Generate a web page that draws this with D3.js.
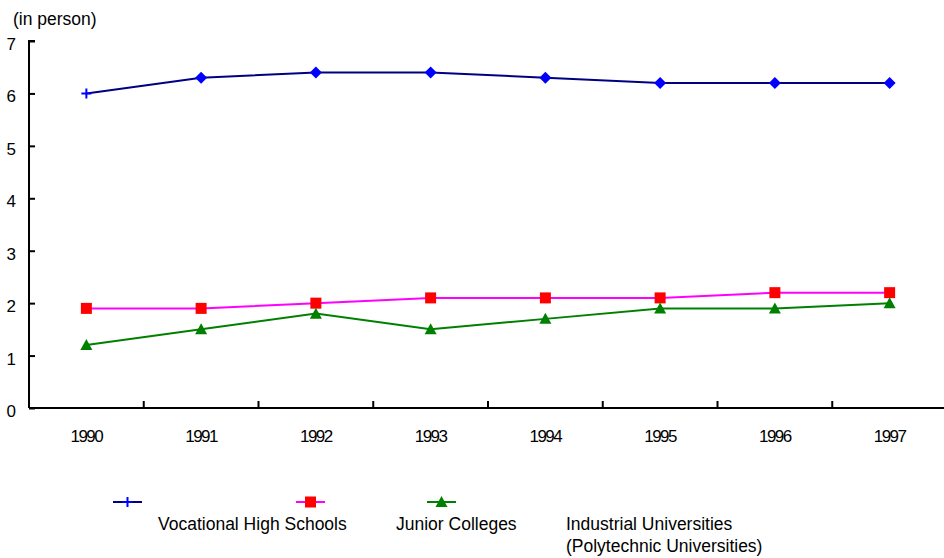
<!DOCTYPE html>
<html><head><meta charset="utf-8">
<script src="https://cdn.jsdelivr.net/npm/d3@7"></script>
<style>body{margin:0;background:#fff}svg{display:block}text{font-family:"Liberation Sans",Arial,sans-serif;fill:#000}</style>
</head><body>
<svg id="c" width="944" height="558"></svg>
<script>
const years = ["1990","1991","1992","1993","1994","1995","1996","1997"];
const vocational = [6.0, 6.3, 6.4, 6.4, 6.3, 6.2, 6.2, 6.2];
const junior = [1.9, 1.9, 2.0, 2.1, 2.1, 2.1, 2.2, 2.2];
const industrial = [1.2, 1.5, 1.8, 1.5, 1.7, 1.9, 1.9, 2.0];
const yTicks = [0,1,2,3,4,5,6,7];
const seriesNames = ["Vocational High Schools", "Junior Colleges", "Industrial Universities|(Polytechnic Universities)"];

const svg = d3.select("#c");
const x = d3.scaleBand().domain(years).range([29, 947]);
const y = d3.scaleLinear().domain([0,7]).range([408, 41]);

// axes
const gy = svg.append("g").attr("transform","translate(29,0)")
  .call(d3.axisRight(y).tickValues(yTicks).tickSize(6).tickFormat(""));
gy.select(".domain").attr("stroke","#000").attr("stroke-width",2).attr("d","M6,41H0V408");
gy.selectAll(".tick line").attr("stroke","#000").attr("stroke-width",2);
yTicks.forEach(v=>{
  svg.append("text").attr("x",16).attr("y",y(v)+9).attr("text-anchor","end")
    .style("font-size","17px").text(v);
});

const gx = svg.append("g").attr("transform","translate(0,408)")
  .call(d3.axisTop(x).tickSize(0).tickFormat(""));
gx.select(".domain").attr("stroke","#000").attr("stroke-width",2).attr("d","M29,0H944");
years.slice(1).forEach(yr=>{
  svg.append("line").attr("x1",x(yr)).attr("x2",x(yr)).attr("y1",401).attr("y2",408)
    .attr("stroke","#000").attr("stroke-width",2);
});
years.forEach(yr=>{
  svg.append("text").attr("x",x(yr)+x.bandwidth()/2).attr("y",442).attr("text-anchor","middle")
    .style("font-size","17px").style("letter-spacing","-1.5px").text(yr);
});
svg.append("text").attr("x",13).attr("y",25).style("font-size","17.5px").text("(in person)");

const cx = d => x(d)+x.bandwidth()/2;
const line = d3.line().x((d,i)=>cx(years[i])).y(d=>y(d));

function drawSeries(data, lineColor, markColor, shape){
  svg.append("path").datum(data).attr("d",line).attr("fill","none")
    .attr("stroke",lineColor).attr("stroke-width",2);
  data.forEach((v,i)=>{
    drawMarker(cx(years[i]), y(v), (shape==="diamond" && i===0) ? "plus" : shape, markColor);
  });
}
function drawMarker(px, py, shape, color){
  if(shape==="diamond"){
    svg.append("path").attr("d",`M${px},${py-6}L${px+6},${py}L${px},${py+6}L${px-6},${py}Z`).attr("fill",color);
  } else if(shape==="plus"){
    svg.append("path").attr("d",`M${px},${py-5}V${py+5}M${px-5},${py}H${px+5}`).attr("stroke",color).attr("stroke-width",2);
  } else if(shape==="square"){
    svg.append("rect").attr("x",px-5.5).attr("y",py-5.5).attr("width",11).attr("height",11).attr("fill",color);
  } else if(shape==="triangle"){
    svg.append("path").attr("d",`M${px},${py-6}L${px+6},${py+5}L${px-6},${py+5}Z`).attr("fill",color);
  }
}
drawSeries(vocational, "#000080", "#0000FF", "diamond");
drawSeries(junior, "#FF00FF", "#FF0000", "square");
drawSeries(industrial, "#008000", "#008000", "triangle");

// legend
const leg = [
  {x:113, tx:158, lc:"#000080", mc:"#0000FF", shape:"plus", name:seriesNames[0]},
  {x:296, tx:396, lc:"#FF00FF", mc:"#FF0000", shape:"square", name:seriesNames[1]},
  {x:427, tx:566, lc:"#008000", mc:"#008000", shape:"triangle", name:seriesNames[2]}
];
leg.forEach(l=>{
  svg.append("line").attr("x1",l.x).attr("x2",l.x+29).attr("y1",502).attr("y2",502)
    .attr("stroke",l.lc).attr("stroke-width",2);
  drawMarker(l.x+14.5, 502, l.shape, l.mc);
  l.name.split("|").forEach((s,k)=>{
    svg.append("text").attr("x",l.tx).attr("y",530+k*22).style("font-size","17.5px").text(s);
  });
});
</script>
</body></html>
